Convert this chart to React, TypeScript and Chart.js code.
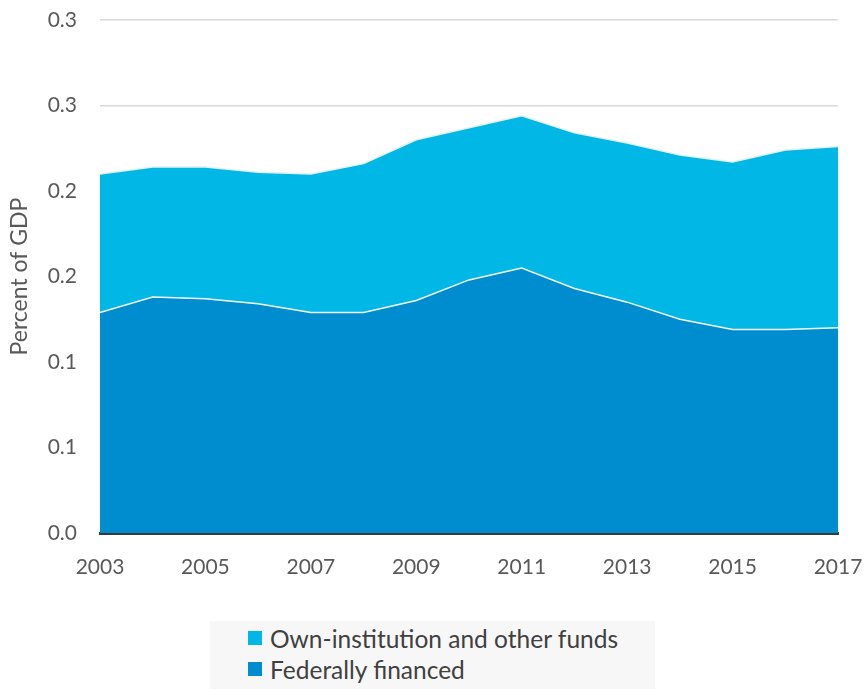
import React, { useEffect, useRef } from 'react';
import { Chart, registerables } from 'chart.js';

Chart.register(...registerables);

const years = ['2003', '2004', '2005', '2006', '2007', '2008', '2009', '2010', '2011', '2012', '2013', '2014', '2015', '2016', '2017'];
const federallyFinanced = [0.129, 0.138, 0.137, 0.134, 0.129, 0.129, 0.136, 0.148, 0.155, 0.143, 0.135, 0.125, 0.119, 0.119, 0.12];
const ownInstitution = [0.081, 0.076, 0.077, 0.077, 0.081, 0.087, 0.094, 0.089, 0.089, 0.091, 0.093, 0.096, 0.098, 0.105, 0.106];
const yTickLabels = ['0.0', '0.1', '0.1', '0.2', '0.2', '0.3', '0.3'];
const seriesNames = ['Own-institution and other funds', 'Federally financed'];
const seriesColors = ['#00b7e5', '#008dd0'];
const yAxisTitle = 'Percent of GDP';

const FONT = 'Lato, "Open Sans", sans-serif';

export default function App() {
  const canvasRef = useRef<HTMLCanvasElement | null>(null);

  useEffect(() => {
    if (!canvasRef.current) return;
    const chart = new Chart(canvasRef.current, {
      type: 'line',
      data: {
        labels: years,
        datasets: [
          {
            label: seriesNames[1],
            data: federallyFinanced,
            backgroundColor: seriesColors[1],
            borderColor: '#f2f8fc',
            borderWidth: 1.5,
            fill: 'origin',
            pointRadius: 0,
            tension: 0,
          },
          {
            label: seriesNames[0],
            data: ownInstitution,
            backgroundColor: seriesColors[0],
            borderColor: '#e3f1f7',
            borderWidth: 1.5,
            fill: '-1',
            pointRadius: 0,
            tension: 0,
          },
        ],
      },
      options: {
        responsive: false,
        animation: false,
        layout: { padding: { left: 0, right: 27, top: 20, bottom: 0 } },
        plugins: { legend: { display: false }, tooltip: { enabled: false } },
        scales: {
          x: {
            offset: false,
            z: 1,
            grid: {
              display: true,
              drawOnChartArea: false,
              drawTicks: true,
              tickLength: 22,
              color: 'rgba(0,0,0,0)',
              tickColor: 'rgba(0,0,0,0)',
            },
            border: { display: true, color: '#3a3a3a', width: 3 },
            ticks: {
              autoSkip: false,
              maxRotation: 0,
              padding: 0,
              color: '#595959',
              font: { family: FONT, size: 21 },
              callback: (_v: any, i: number) => (i % 2 === 0 ? years[i] : ''),
            },
            afterFit: (s: any) => {
              s.height = 67;
            },
          },
          y: {
            stacked: true,
            min: 0,
            max: 0.3,
            grid: {
              color: '#d9d9d9',
              lineWidth: 1.5,
              drawTicks: true,
              tickLength: 23,
              tickColor: 'rgba(0,0,0,0)',
            },
            border: { display: false },
            ticks: {
              stepSize: 0.05,
              padding: 0,
              color: '#595959',
              font: { family: FONT, size: 21 },
              callback: (_v: any, i: number) => yTickLabels[i],
            },
            title: {
              display: true,
              text: yAxisTitle,
              color: '#595959',
              font: { family: FONT, size: 23 },
              padding: { top: 6, bottom: 0 },
            },
            afterFit: (s: any) => {
              s.width = 100;
            },
          },
        },
      },
    });
    return () => chart.destroy();
  }, []);

  const legendItems = [
    { name: seriesNames[0], color: seriesColors[0] },
    { name: seriesNames[1], color: seriesColors[1] },
  ];

  return (
    <div style={{ position: 'absolute', left: 0, top: 0, width: 865, height: 689, background: '#ffffff', overflow: 'hidden' }}>
      <canvas ref={canvasRef} width={865} height={600} style={{ position: 'absolute', left: 0, top: 0, width: 865, height: 600 }} />
      <div
        style={{
          position: 'absolute',
          left: 210,
          top: 621,
          width: 445,
          height: 68,
          background: '#f7f7f7',
          fontFamily: FONT,
          fontSize: 24.5,
          color: '#404040',
        }}
      >
        {legendItems.map((it, i) => (
          <div key={i} style={{ position: 'absolute', left: 38, top: 3 + i * 31, height: 28, display: 'flex', alignItems: 'center', whiteSpace: 'nowrap' }}>
            <span style={{ display: 'inline-block', width: 14, height: 14, background: it.color, marginRight: 8 }} />
            <span>{it.name}</span>
          </div>
        ))}
      </div>
    </div>
  );
}
